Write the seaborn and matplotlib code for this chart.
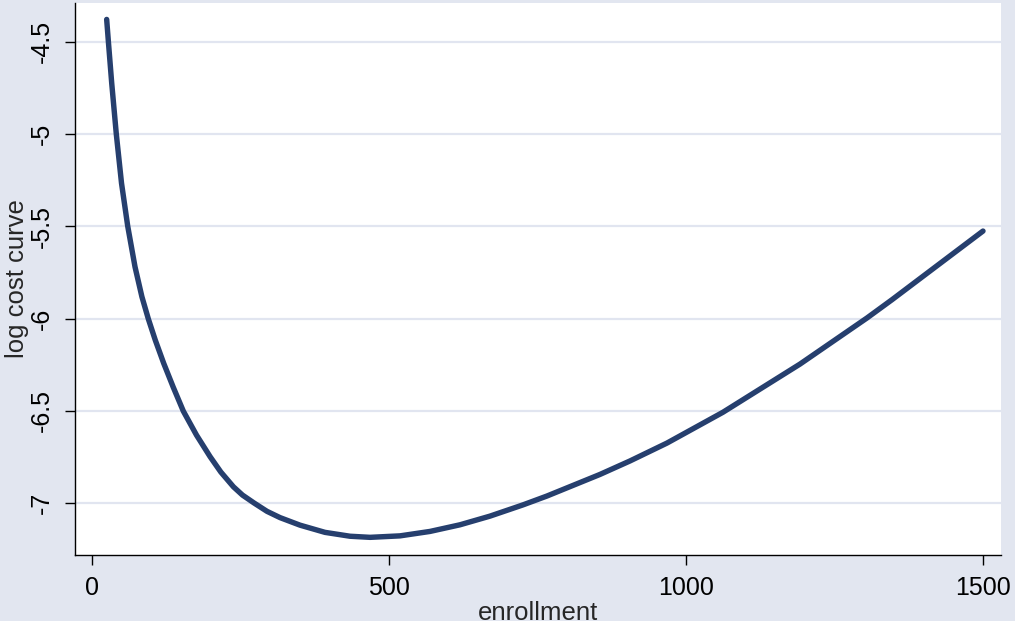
import matplotlib
matplotlib.use("Agg")
import matplotlib.pyplot as plt
import seaborn as sns
import pandas as pd

# Fitted log cost curve evaluated along school enrollment
enrollment = [24.7, 27.6, 33.2, 40.9, 49.7, 60.1, 72.4, 84.0, 94.9, 106.5,
              120.7, 136.7, 153.7, 175.9, 198.8, 216.8, 238.0, 253.3, 272.8,
              294.5, 316.4, 350.1, 392.1, 434.2, 467.9, 518.4, 568.8, 619.3,
              669.8, 725.4, 765.7, 854.9, 905.4, 967.7, 1061.9, 1191.5,
              1304.3, 1346.4, 1422.1, 1499.5]
log_cost = [-4.379, -4.500, -4.725, -5.000, -5.267, -5.499, -5.720, -5.882,
            -6.003, -6.117, -6.243, -6.372, -6.502, -6.632, -6.749, -6.832,
            -6.912, -6.957, -7.000, -7.045, -7.079, -7.120, -7.159, -7.180,
            -7.186, -7.178, -7.154, -7.118, -7.071, -7.010, -6.962, -6.845,
            -6.772, -6.675, -6.508, -6.247, -5.997, -5.898, -5.714, -5.526]

x_ticks = [0, 500, 1000, 1500]
y_ticks = [-7, -6.5, -6, -5.5, -5, -4.5]
y_tick_labels = ["-7", "-6.5", "-6", "-5.5", "-5", "-4.5"]

df = pd.DataFrame({"enrollment": enrollment, "log cost curve": log_cost})

sns.set_style("white")
plt.rcParams["font.family"] = ["Liberation Sans", "DejaVu Sans"]

W, H = 1015, 621
fig = plt.figure(figsize=(W / 100, H / 100), dpi=100)
fig.patch.set_facecolor("#e2e6f0")
ax = fig.add_axes([75 / W, 1 - 554.5 / H, (1001 - 75) / W, (554.5 - 3) / H])
ax.set_facecolor("white")

sns.lineplot(data=df, x="enrollment", y="log cost curve", ax=ax,
             color="#263f6e", linewidth=3.9, sort=False,
             solid_capstyle="round", solid_joinstyle="round", zorder=3)

ax.set_xlim(-28.6, 1529.8)
ax.set_ylim(-7.279, -4.290)
ax.set_xticks(x_ticks)
ax.set_xticklabels([str(v) for v in x_ticks])
ax.set_yticks(y_ticks)
ax.set_yticklabels(y_tick_labels, rotation=90, va="center")

ax.grid(axis="y", color="#e1e5f0", linewidth=1.6, zorder=1)
ax.grid(axis="x", visible=False)

for side in ("top", "right"):
    ax.spines[side].set_visible(False)
for side in ("left", "bottom"):
    ax.spines[side].set_color("black")
    ax.spines[side].set_linewidth(1.0)

ax.tick_params(axis="both", which="major", direction="out", length=7.5,
               width=1.0, color="black", labelsize=18, labelcolor="black",
               left=True, bottom=True)
ax.tick_params(axis="x", pad=8)
ax.tick_params(axis="y", pad=8)

ax.set_xlabel("enrollment", fontsize=18.5, labelpad=1)
ax.set_ylabel("log cost curve", fontsize=18.5, labelpad=0)

fig.savefig("out.png", dpi=100, facecolor=fig.get_facecolor())
